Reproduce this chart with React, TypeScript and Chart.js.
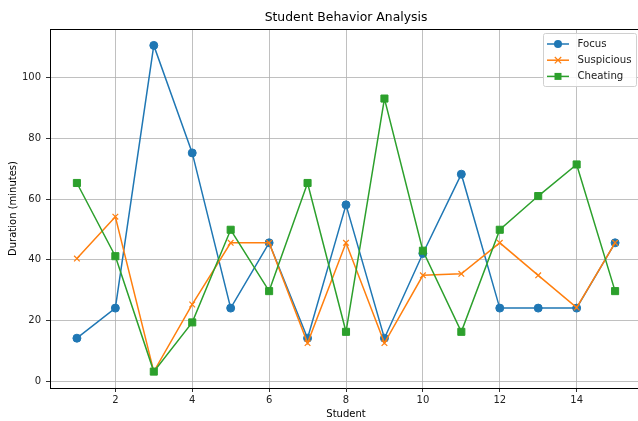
import React, { useEffect, useRef } from "react";
import { Chart, registerables } from "chart.js";

Chart.register(...registerables);

const students = [1, 2, 3, 4, 5, 6, 7, 8, 9, 10, 11, 12, 13, 14, 15];
const focus = [14.2, 24.1, 110.6, 75.2, 24.1, 45.6, 14.2, 58.1, 14.2, 42.1, 68.2, 24.1, 24.1, 24.1, 45.6];
const suspicious = [40.4, 54.2, 3.2, 25.3, 45.6, 45.6, 12.6, 45.6, 12.6, 34.9, 35.4, 45.6, 34.9, 24.3, 45.6];
const cheating = [65.3, 41.2, 3.2, 19.4, 49.9, 29.7, 65.3, 16.3, 93.1, 43.0, 16.3, 49.9, 61.0, 71.4, 29.7];
const xTicks = [2, 4, 6, 8, 10, 12, 14];
const yTicks = [0, 20, 40, 60, 80, 100];
const seriesNames = ["Focus", "Suspicious", "Cheating"];
const colors = ["#1f77b4", "#ff7f0e", "#2ca02c"];
const markers = ["circle", "crossRot", "rect"];

const FONT = "'DejaVu Sans', sans-serif";

function drawMarker(ctx: CanvasRenderingContext2D, style: string, x: number, y: number, color: string) {
  ctx.save();
  ctx.fillStyle = color;
  ctx.strokeStyle = color;
  ctx.lineWidth = 1.2;
  ctx.beginPath();
  if (style === "circle") {
    ctx.arc(x, y, 4, 0, Math.PI * 2);
    ctx.fill();
  } else if (style === "rect") {
    ctx.rect(x - 3.5, y - 3.5, 7, 7);
    ctx.fill();
  } else {
    const r = 3.2;
    ctx.moveTo(x - r, y - r);
    ctx.lineTo(x + r, y + r);
    ctx.moveTo(x + r, y - r);
    ctx.lineTo(x - r, y + r);
    ctx.stroke();
  }
  ctx.restore();
}

const decorPlugin = {
  id: "decor",
  afterDraw(chart: any) {
    const { ctx, chartArea } = chart;
    ctx.save();
    // top spine
    ctx.strokeStyle = "#000";
    ctx.lineWidth = 1;
    ctx.beginPath();
    ctx.moveTo(chartArea.left, chartArea.top + 0.5);
    ctx.lineTo(chartArea.right, chartArea.top + 0.5);
    ctx.stroke();
    // title
    ctx.fillStyle = "#000";
    ctx.font = `12.4px ${FONT}`;
    ctx.textAlign = "center";
    ctx.textBaseline = "middle";
    ctx.fillText("Student Behavior Analysis", (chartArea.left + chartArea.right) / 2, 18);
    // legend
    const bx = 543.5, by = 33.5, bw = 93, bh = 53;
    ctx.beginPath();
    if ((ctx as any).roundRect) (ctx as any).roundRect(bx, by, bw, bh, 2);
    else ctx.rect(bx, by, bw, bh);
    ctx.fillStyle = "rgba(255,255,255,0.85)";
    ctx.fill();
    ctx.strokeStyle = "#d0d0d0";
    ctx.lineWidth = 1;
    ctx.stroke();
    ctx.font = `10.2px ${FONT}`;
    ctx.textAlign = "left";
    for (let i = 0; i < seriesNames.length; i++) {
      const y = 44 + i * 16.2;
      ctx.strokeStyle = colors[i];
      ctx.lineWidth = 1.5;
      ctx.beginPath();
      ctx.moveTo(547, y);
      ctx.lineTo(569, y);
      ctx.stroke();
      drawMarker(ctx, markers[i], 558, y, colors[i]);
      ctx.fillStyle = "#222";
      ctx.fillText(seriesNames[i], 577.5, y);
    }
    ctx.restore();
  },
};

export default function App() {
  const ref = useRef<HTMLCanvasElement>(null);
  useEffect(() => {
    if (!ref.current) return;
    const mk = (data: number[], i: number) => ({
      label: seriesNames[i],
      data: students.map((s, k) => ({ x: s, y: data[k] })),
      borderColor: colors[i],
      backgroundColor: colors[i],
      pointBackgroundColor: colors[i],
      pointBorderColor: colors[i],
      pointStyle: markers[i],
      pointRadius: i === 0 ? 4 : i === 1 ? 4 : 5,
      pointBorderWidth: i === 1 ? 1.2 : 1,
      borderWidth: 1.5,
      tension: 0,
      order: 3 - i,
    });
    const chart = new Chart(ref.current, {
      type: "line",
      data: {
        datasets: [mk(focus, 0), mk(suspicious, 1), mk(cheating, 2)],
      },
      options: {
        animation: false,
        responsive: false,
        devicePixelRatio: 1,
        layout: { autoPadding: false, padding: { top: 29, right: 1, left: 0, bottom: 0 } },
        plugins: {
          legend: { display: false },
          tooltip: { enabled: false },
          title: { display: false },
        },
        scales: {
          x: {
            type: "linear",
            min: 0.3,
            max: 15.7,
            afterBuildTicks: (s: any) => {
              s.ticks = xTicks.map((v) => ({ value: v }));
            },
            afterFit: (s: any) => {
              s.height = 33;
              s.paddingLeft = 0;
              s.paddingRight = 0;
            },
            grid: { color: "#b0b0b0", lineWidth: 0.8, tickColor: "#000", tickLength: 4, drawTicks: true },
            border: { color: "#000", width: 1 },
            ticks: { color: "#222", font: { family: FONT, size: 10 }, padding: 2, maxRotation: 0, autoSkip: false },
            title: { display: true, text: "Student", color: "#000", font: { family: FONT, size: 10 }, padding: { top: 0, bottom: 1 } },
          },
          y: {
            type: "linear",
            min: -2.2,
            max: 116,
            afterBuildTicks: (s: any) => {
              s.ticks = yTicks.map((v) => ({ value: v }));
            },
            afterFit: (s: any) => {
              s.width = 50;
              s.paddingTop = 0;
              s.paddingBottom = 0;
            },
            grid: { color: "#b0b0b0", lineWidth: 0.8, tickColor: "#000", tickLength: 4, drawTicks: true },
            border: { color: "#000", width: 1 },
            ticks: { color: "#222", font: { family: FONT, size: 10 }, padding: 5, autoSkip: false },
            title: { display: true, text: "Duration (minutes)", color: "#000", font: { family: FONT, size: 10 }, padding: { top: 7, bottom: 0 } },
          },
        },
      },
      plugins: [decorPlugin],
    } as any);
    return () => chart.destroy();
  }, []);
  return (
    <div style={{ position: "absolute", left: 0, top: 0, width: 638, height: 421, overflow: "hidden", background: "#fff" }}>
      <canvas ref={ref} width={643} height={421} style={{ display: "block" }} />
    </div>
  );
}
